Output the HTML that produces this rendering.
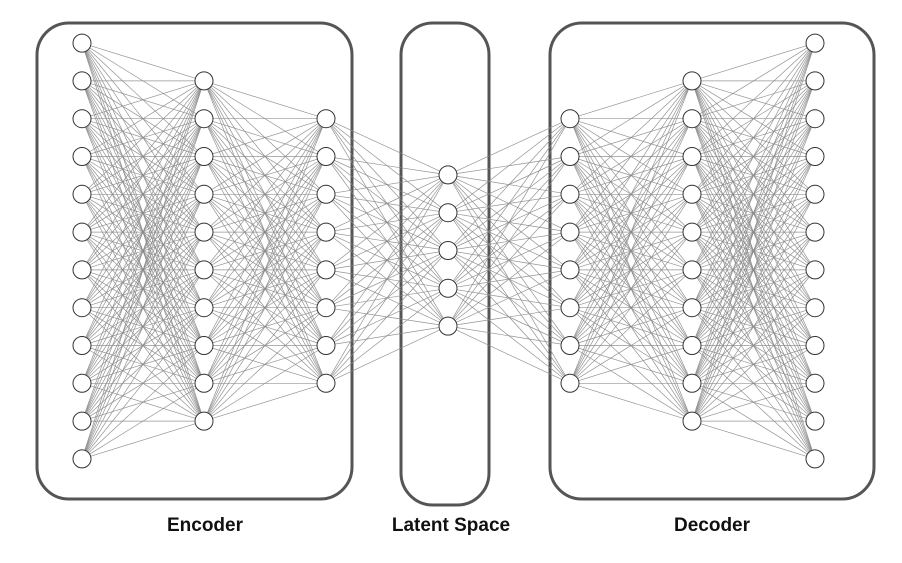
<!DOCTYPE html>
<html><head><meta charset="utf-8"><style>
html,body{margin:0;padding:0;background:#fff;}
svg{display:block;}
text{font-family:"Liberation Sans",sans-serif;font-weight:bold;font-size:19px;fill:#111;}
</style></head><body>
<svg id="s" width="902" height="563" viewBox="0 0 902 563" xmlns="http://www.w3.org/2000/svg">
<rect x="37" y="23" width="315" height="476" rx="32" fill="none" stroke="#555" stroke-width="3"/>
<rect x="401" y="23" width="88" height="482" rx="32" fill="none" stroke="#555" stroke-width="3"/>
<rect x="550" y="23" width="324" height="476" rx="32" fill="none" stroke="#555" stroke-width="3"/>
<g id="lines" stroke="#888" stroke-width="0.7" stroke-opacity="0.9"></g>
<g id="nodes" fill="#fff" stroke="#333" stroke-width="1"></g>
<text x="205" y="531" text-anchor="middle">Encoder</text>
<text x="451" y="531" text-anchor="middle">Latent Space</text>
<text x="712" y="531" text-anchor="middle">Decoder</text>
</svg>
<script>
var sp=37.8;
function ys(n,c){var a=[];for(var i=0;i<n;i++)a.push(c+(i-(n-1)/2)*sp);return a;}
var layers=[[82,ys(12,251)],[204,ys(10,251)],[326,ys(8,251)],[448,ys(5,250.5)],[570,ys(8,251)],[692,ys(10,251)],[815,ys(12,251)]];
var NS="http://www.w3.org/2000/svg",L=document.getElementById("lines"),N=document.getElementById("nodes");
for(var k=0;k<layers.length-1;k++){var a=layers[k],b=layers[k+1];
a[1].forEach(function(y1){b[1].forEach(function(y2){var l=document.createElementNS(NS,"line");
l.setAttribute("x1",a[0]);l.setAttribute("y1",y1);l.setAttribute("x2",b[0]);l.setAttribute("y2",y2);L.appendChild(l);});});}
layers.forEach(function(la){la[1].forEach(function(y){var c=document.createElementNS(NS,"circle");
c.setAttribute("cx",la[0]);c.setAttribute("cy",y);c.setAttribute("r",9);N.appendChild(c);});});
</script>
</body></html>
